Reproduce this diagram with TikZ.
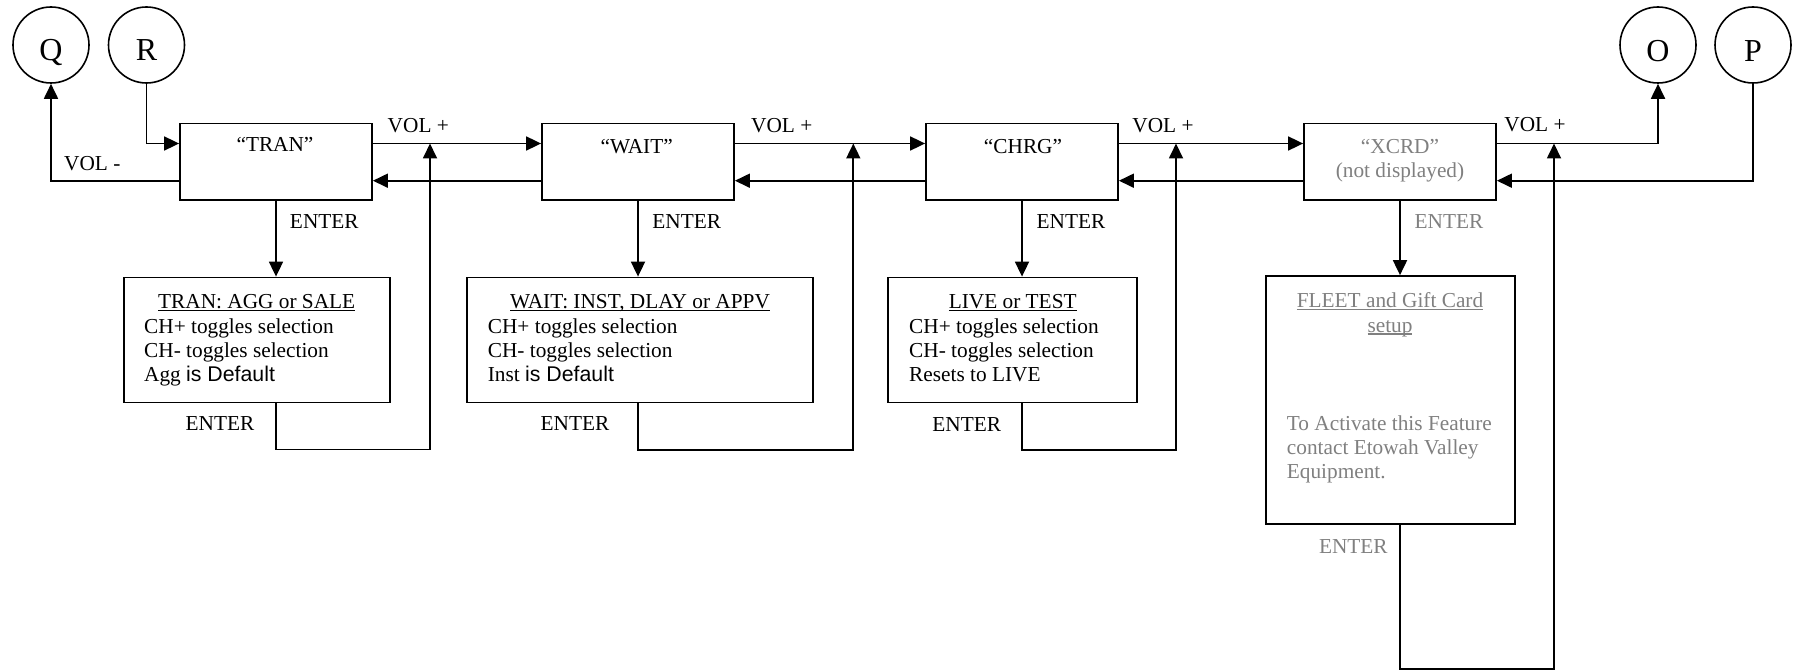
\documentclass[tikz,border=0pt]{standalone}
\usepackage{fontspec}
\setmainfont{Liberation Serif}
\newfontfamily\arialf{Liberation Sans}
\usetikzlibrary{arrows.meta}
\definecolor{txtgray}{RGB}{128,128,128}
\newcommand{\myul}[1]{\setbox0\hbox{#1}\rlap{\rule[-2.6pt]{\wd0}{1.4pt}}\box0}
\begin{document}
\begin{tikzpicture}[x=1pt,y=-1pt,
  every node/.style={font=\fontsize{21.3pt}{25pt}\selectfont, inner sep=0pt},
  box/.style={draw, rectangle, line width=1.8pt},
  mainbox/.style={box, minimum width=192pt, minimum height=76.5pt},
  subbox/.style={box, minimum height=125pt},
  circ/.style={draw, circle, line width=1.6pt, minimum size=76pt},
  letter/.style={anchor=base, font=\fontsize{32pt}{36pt}\selectfont},
  wire/.style={line width=1.8pt},
  arr/.style={wire, -{Triangle[length=15pt,width=14pt]}},
  lbl/.style={anchor=base},
  ln/.style={anchor=base west},
  grey/.style={text=txtgray}]
\fill[white] (0,0) rectangle (1801,671);
\useasboundingbox (0,0) rectangle (1801,671);

% circles
\node[circ] (q) at (51,45) {};
\node[circ] (r) at (146.5,45) {};
\node[circ] (o) at (1658,45) {};
\node[circ] (p) at (1753,45) {};
\node[letter] (lq) at (51,61) {Q};
\node[letter] (lr) at (146.5,61) {R};
\node[letter] (lo) at (1658,61.5) {O};
\node[letter] (lp) at (1753,61.5) {P};

% main boxes
\node[mainbox] (tran) at (276,161.75) {};
\node[mainbox] (wait) at (638,161.75) {};
\node[mainbox] (chrg) at (1022,161.75) {};
\node[mainbox] (xcrd) at (1400,161.75) {};

\node[lbl] (ttran) at (275,152) {“TRAN”};
\node[lbl] (twait) at (636.7,153.7) {“WAIT”};
\node[lbl] (tchrg) at (1023,154) {“CHRG”};
\node[lbl,grey] (txcrd) at (1400,153.7) {“XCRD”};
\node[lbl,grey] (txcrd2) at (1400,177.5) {(not displayed)};

% sub boxes
\node[subbox, minimum width=266pt] (trans) at (257,340) {};
\node[subbox, minimum width=346pt] (waits) at (640.3,340) {};
\node[subbox, minimum width=249pt] (chrgs) at (1012.2,340) {};
\node[box, minimum width=249.3pt, minimum height=248.3pt] (fleet) at (1390.3,400.2) {};

% sub box texts
\node[lbl] (s1a) at (256.7,308.5) {\myul{TRAN: AGG or SALE}};
\node[ln] (s1b) at (144,333) {CH+ toggles selection};
\node[ln] (s1c) at (144,357) {CH- toggles selection};
\node[ln] (s1d) at (144,381) {Agg {\arialf is Default}};

\node[lbl] (s2a) at (640,308.5) {\myul{WAIT: INST, DLAY or APPV}};
\node[ln] (s2b) at (487.7,333) {CH+ toggles selection};
\node[ln] (s2c) at (487.7,357) {CH- toggles selection};
\node[ln] (s2d) at (487.7,381) {Inst {\arialf is Default}};

\node[lbl] (s3a) at (1012.7,308.5) {\myul{LIVE or TEST}};
\node[ln] (s3b) at (909,333) {CH+ toggles selection};
\node[ln] (s3c) at (909,357) {CH- toggles selection};
\node[ln] (s3d) at (909,381) {Resets to LIVE};

\node[lbl,grey] (s4a) at (1390,307.5) {\color{txtgray}\myul{FLEET and Gift Card}};
\node[lbl,grey] (s4b) at (1390,332) {\color{txtgray}\myul{setup}};
\node[ln,grey] (s4c) at (1286.7,430) {To Activate this Feature};
\node[ln,grey] (s4d) at (1286.7,454) {contact Etowah Valley};
\node[ln,grey] (s4e) at (1286.7,478.7) {Equipment.};

% labels
\node[lbl] (vm) at (92.3,170.3) {VOL -};
\node[lbl] (vp1) at (418.3,133) {VOL +};
\node[lbl] (vp2) at (781.7,133) {VOL +};
\node[lbl] (vp3) at (1163,133) {VOL +};
\node[lbl] (vp4) at (1535,131.5) {VOL +};
\node[lbl] (e1) at (324.3,229) {ENTER};
\node[lbl] (e2) at (686.7,229) {ENTER};
\node[lbl] (e3) at (1071,229) {ENTER};
\node[lbl,grey] (e4) at (1449,229) {ENTER};
\node[lbl] (f1) at (220,430) {ENTER};
\node[lbl] (f2) at (575,430) {ENTER};
\node[lbl] (f3) at (966.7,431) {ENTER};
\node[lbl,grey] (f4) at (1353.3,553) {ENTER};

% helper coordinates
\coordinate (fy) at (0,143.5);
\coordinate (by) at (0,180.7);
\coordinate (c1) at (430,449.5);
\coordinate (c2) at (853.3,450);
\coordinate (c3) at (1176,450);
\coordinate (c4) at (1554,669);

% connectors along top row
\draw[arr] (r.south) |- (tran.west |- fy);
\draw[arr] (tran.west |- by) -| (q.south);
\draw[arr] (tran.east |- fy) -- (wait.west |- fy);
\draw[arr] (wait.west |- by) -- (tran.east |- by);
\draw[arr] (wait.east |- fy) -- (chrg.west |- fy);
\draw[arr] (chrg.west |- by) -- (wait.east |- by);
\draw[arr] (chrg.east |- fy) -- (xcrd.west |- fy);
\draw[arr] (xcrd.west |- by) -- (chrg.east |- by);
\draw[arr] (xcrd.east |- fy) -| (o.south);
\draw[arr] (p.south) |- (xcrd.east |- by);

% ENTER down
\draw[arr] (tran.south) -- (tran.south |- trans.north);
\draw[arr] (wait.south) -- (wait.south |- waits.north);
\draw[arr] (chrg.south) -- (chrg.south |- chrgs.north);
\draw[arr] (xcrd.south) -- (xcrd.south |- fleet.north);

% ENTER loops back
\draw[arr] (tran.south |- trans.south) |- (c1) -- (c1 |- fy);
\draw[arr] (wait.south |- waits.south) |- (c2) -- (c2 |- fy);
\draw[arr] (chrg.south |- chrgs.south) |- (c3) -- (c3 |- fy);
\draw[arr] (xcrd.south |- fleet.south) |- (c4) -- (c4 |- fy);
\end{tikzpicture}
\end{document}
